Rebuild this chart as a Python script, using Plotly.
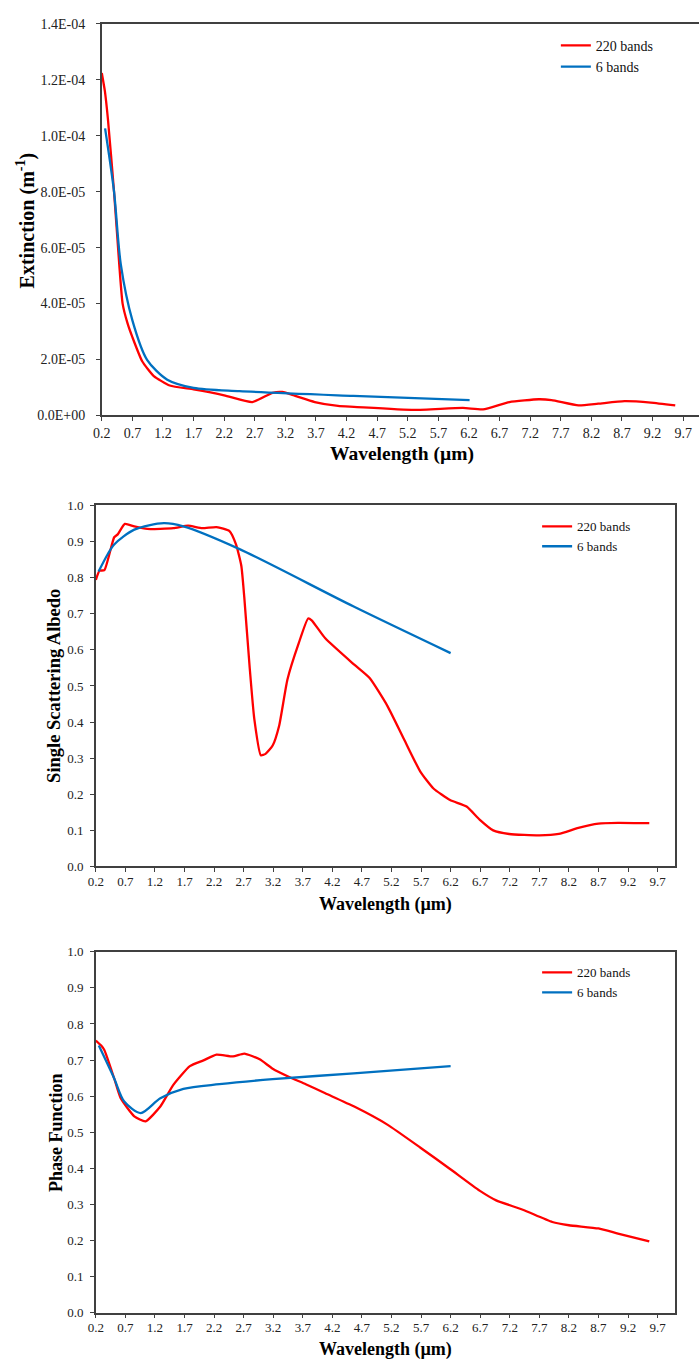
import plotly.graph_objects as go

# ---------------- data ----------------
# Panel 1: Extinction (m^-1)
ext_220_x = [0.2, 0.25, 0.3, 0.4, 0.485, 0.54, 0.62, 0.7, 0.86, 1.05, 1.31, 1.7, 2.2, 2.66, 2.99, 3.15,
             3.36, 3.68, 4.06, 4.32, 5.3, 6.1, 6.43, 6.86, 7.34, 7.55, 7.99, 8.31, 8.74, 9.17, 9.57]
ext_220_y = [1.224e-4, 1.16e-4, 1.06e-4, 8.0e-5, 5.41e-5, 4.0e-5, 3.3e-5, 2.8e-5, 1.94e-5, 1.41e-5,
             1.07e-5, 9.3e-6, 7.2e-6, 4.8e-6, 8.1e-6, 8.4e-6, 7.0e-6, 4.8e-6, 3.4e-6, 3.1e-6, 2.0e-6,
             2.7e-6, 2.2e-6, 4.8e-6, 5.8e-6, 5.5e-6, 3.6e-6, 4.2e-6, 5.1e-6, 4.6e-6, 3.6e-6]
ext_6_x = [0.254, 0.4, 0.51, 0.7, 0.94, 1.27, 1.7, 2.45, 4.31, 6.21]
ext_6_y = [1.026e-4, 8.0e-5, 5.41e-5, 3.4e-5, 1.99e-5, 1.28e-5, 9.9e-6, 8.7e-6, 7.0e-6, 5.5e-6]
ext_tickvals = [0, 2e-5, 4e-5, 6e-5, 8e-5, 1e-4, 1.2e-4, 1.4e-4]
ext_ticktext = ["0.0E+00", "2.0E-05", "4.0E-05", "6.0E-05", "8.0E-05", "1.0E-04", "1.2E-04", "1.4E-04"]

# Panel 2: Single Scattering Albedo
ssa_220_x = [0.2, 0.26, 0.345, 0.51, 0.57, 0.69, 0.85, 1.07, 1.51, 1.76, 2.0, 2.24, 2.46, 2.57, 2.66,
             2.71, 2.8, 2.88, 2.99, 3.07, 3.19, 3.3, 3.44, 3.63, 3.79, 3.85, 4.08, 4.57, 4.83, 5.13,
             5.41, 5.69, 5.91, 6.19, 6.47, 6.69, 6.92, 7.19, 7.7, 8.03, 8.36, 8.7, 9.03, 9.56]
ssa_220_y = [0.794, 0.819, 0.821, 0.912, 0.92, 0.949, 0.942, 0.935, 0.937, 0.944, 0.937, 0.94, 0.929,
             0.892, 0.833, 0.746, 0.554, 0.408, 0.308, 0.312, 0.335, 0.39, 0.518, 0.618, 0.687, 0.682,
             0.632, 0.559, 0.522, 0.445, 0.353, 0.262, 0.216, 0.184, 0.166, 0.13, 0.1, 0.09, 0.086,
             0.09, 0.107, 0.119, 0.121, 0.12]
ssa_6_x = [0.245, 0.4, 0.51, 0.85, 1.35, 1.68, 2.63, 4.56, 6.2]
ssa_6_y = [0.817, 0.865, 0.892, 0.933, 0.951, 0.942, 0.879, 0.72, 0.591]

# Panel 3: Phase Function
pf_220_x = [0.2, 0.29, 0.345, 0.51, 0.62, 0.85, 1.04, 1.29, 1.51, 1.79, 2.02, 2.24, 2.52, 2.71, 2.97,
            3.19, 3.47, 3.75, 4.08, 4.57, 5.13, 5.69, 6.19, 6.69, 6.97, 7.42, 7.92, 8.2, 8.7, 9.03, 9.56]
pf_220_y = [0.754, 0.74, 0.727, 0.649, 0.594, 0.544, 0.53, 0.571, 0.631, 0.683, 0.699, 0.715, 0.71,
            0.718, 0.702, 0.676, 0.653, 0.633, 0.608, 0.571, 0.521, 0.457, 0.398, 0.338, 0.311,
            0.285, 0.251, 0.242, 0.233, 0.219, 0.197]
pf_6_x = [0.25, 0.51, 0.68, 0.96, 1.29, 1.68, 2.29, 3.19, 4.56, 6.2]
pf_6_y = [0.74, 0.649, 0.585, 0.553, 0.594, 0.62, 0.633, 0.647, 0.663, 0.683]

unit_ticks = [0.0, 0.1, 0.2, 0.3, 0.4, 0.5, 0.6, 0.7, 0.8, 0.9, 1.0]

series_names = ["220 bands", "6 bands"]
RED = "#FF0000"
BLUE = "#0070C0"

# ---------------- figure ----------------
W, H = 699, 1369
FONT = "Liberation Serif"
AX = "#404040"


def px_x(p):
    return p / W


def px_y(p):
    return 1 - p / H


fig = go.Figure()

panels = [
    (ext_220_x, ext_220_y, ext_6_x, ext_6_y, "x", "y", "legend"),
    (ssa_220_x, ssa_220_y, ssa_6_x, ssa_6_y, "x2", "y2", "legend2"),
    (pf_220_x, pf_220_y, pf_6_x, pf_6_y, "x3", "y3", "legend3"),
]
for rx, ry, bx, by, xa, ya, lg in panels:
    fig.add_trace(go.Scatter(x=rx, y=ry, mode="lines", name=series_names[0],
                             line=dict(color=RED, width=2.3, shape="spline", smoothing=0.5),
                             xaxis=xa, yaxis=ya, legend=lg))
    fig.add_trace(go.Scatter(x=bx, y=by, mode="lines", name=series_names[1],
                             line=dict(color=BLUE, width=2.3, shape="spline", smoothing=0.8),
                             xaxis=xa, yaxis=ya, legend=lg))

xcommon = dict(tick0=0.2, dtick=0.5, tickformat=".1f", ticks="outside", ticklen=4,
               tickcolor=AX, showline=True, linecolor=AX, linewidth=1.5, showgrid=False,
               zeroline=False, ticklabeloverflow="allow",
               tickfont=dict(family=FONT, color="#222", size=13))
ycommon = dict(ticks="outside", ticklen=4, tickcolor=AX, showline=True, linecolor=AX,
               linewidth=1.5, showgrid=False, zeroline=False,
               tickfont=dict(family=FONT, color="#222", size=13))

x1_end = 0.2 + (W - 94) / 62.0

fig.update_layout(
    xaxis=dict(xcommon, domain=[px_x(94), 1.0], range=[0.2, x1_end], anchor="y", mirror=True,
               tickfont=dict(family=FONT, color="#222", size=14), ticklabelstandoff=0),
    yaxis=dict(ycommon, domain=[px_y(413), px_y(17)], range=[0, 1.4e-4], anchor="x",
               tickvals=ext_tickvals, ticktext=ext_ticktext, mirror=False,
               tickfont=dict(family=FONT, color="#222", size=14), ticklabelstandoff=8),
    xaxis2=dict(xcommon, domain=[px_x(88), px_x(675)], range=[0.2, 10.0], anchor="y2",
                mirror=True, ticklabelstandoff=-2),
    yaxis2=dict(ycommon, domain=[px_y(869), px_y(504)], range=[0, 1.0], anchor="x2",
                tickvals=unit_ticks, tickformat=".1f", mirror=True, ticklabelstandoff=4),
    xaxis3=dict(xcommon, domain=[px_x(88), px_x(675)], range=[0.2, 10.0], anchor="y3",
                mirror=True, ticklabelstandoff=-2),
    yaxis3=dict(ycommon, domain=[px_y(1320), px_y(955.3)], range=[0, 1.0], anchor="x3",
                tickvals=unit_ticks, tickformat=".1f", mirror=True, ticklabelstandoff=4),
)

leg_common = dict(bgcolor="rgba(0,0,0,0)", borderwidth=0, xanchor="left", yanchor="top",
                  tracegroupgap=0, itemwidth=30)
fig.update_layout(
    legend=dict(leg_common, x=px_x(554), y=px_y(23), font=dict(family=FONT, size=14, color="#111")),
    legend2=dict(leg_common, x=px_x(535), y=px_y(510), font=dict(family=FONT, size=13, color="#111")),
    legend3=dict(leg_common, x=px_x(535), y=px_y(961), font=dict(family=FONT, size=13, color="#111")),
)

ann = [
    dict(text="<b>Wavelength (µm)</b>", x=px_x(398), y=px_y(452), size=19.5, angle=0),
    dict(text="<b>Extinction (m<sup>-1</sup>)</b>", x=px_x(17), y=px_y(216), size=20, angle=-90),
    dict(text="<b>Wavelength (µm)</b>", x=px_x(381.5), y=px_y(907), size=18, angle=0),
    dict(text="<b>Single Scattering Albedo</b>", x=px_x(46), y=px_y(686), size=18.5, angle=-90),
    dict(text="<b>Wavelength (µm)</b>", x=px_x(381.5), y=px_y(1357), size=18, angle=0),
    dict(text="<b>Phase Function</b>", x=px_x(47), y=px_y(1138), size=18, angle=-90),
]
for a in ann:
    fig.add_annotation(text=a["text"], x=a["x"], y=a["y"], xref="paper", yref="paper",
                       xanchor="center", yanchor="middle", showarrow=False, textangle=a["angle"],
                       font=dict(family=FONT, size=a["size"], color="#000"))

fig.update_layout(
    width=W, height=H, autosize=False,
    margin=dict(l=0, r=0, t=0, b=0, pad=0),
    paper_bgcolor="white", plot_bgcolor="white",
    showlegend=True,
    font=dict(family=FONT),
)

fig.write_html(
    "out.html",
    config={"displayModeBar": False},
    post_script="document.body.style.margin='0';document.body.style.overflow='hidden';",
)
